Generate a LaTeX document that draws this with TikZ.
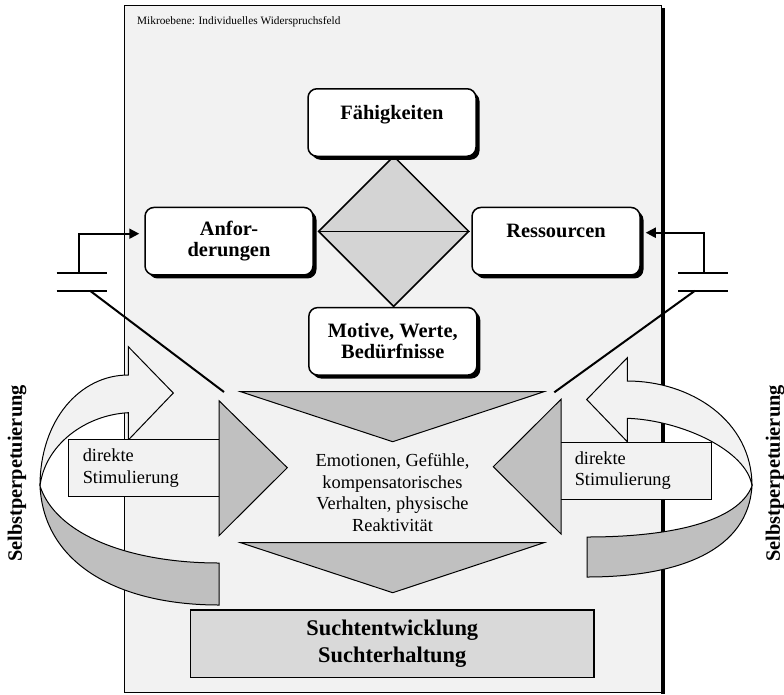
\documentclass[tikz,border=0pt]{standalone}
\usepackage{fontspec}
\setmainfont{Liberation Serif}
\usetikzlibrary{shapes.geometric,arrows.meta,shadows,calc}
\definecolor{framebg}{HTML}{F2F2F2}
\definecolor{trigray}{HTML}{C0C0C0}
\definecolor{diagray}{HTML}{D4D4D4}
\definecolor{suchtgray}{HTML}{D9D9D9}
\definecolor{ribgray}{HTML}{BFBFBF}
\begin{document}
\begin{tikzpicture}[x=1pt,y=-1pt,
  roundbox/.style={draw=black, line width=1.5pt, fill=white, rounded corners=9pt,
    minimum width=168pt, minimum height=67.5pt, inner sep=0pt, align=center,
    font=\fontsize{20.4}{21}\selectfont\bfseries,
    drop shadow={shadow xshift=3.5pt, shadow yshift=-3.5pt, opacity=1, fill=black}},
  stimbox/.style={draw=black, line width=1pt, fill=framebg, minimum height=56.7pt,
    inner xsep=14.4pt, inner ysep=0pt, text width=121.9pt, align=left,
    font=\fontsize{18.4}{21.7}\selectfont},
  tri/.style={fill=trigray, draw=black, line width=1pt, line join=miter},
  conn/.style={draw=black, line width=2pt},
  ribfront/.style={fill=framebg, draw=black, line width=1pt, line join=miter},
  ribback/.style={fill=ribgray, draw=black, line width=1pt},
  vlabel/.style={rotate=90, inner sep=0pt, font=\fontsize{20.4}{21}\selectfont\bfseries}
]
\useasboundingbox (0,0) rectangle (784,694);

% frame
\fill[black] (661,8) rectangle (664.5,694);
\filldraw[fill=framebg, draw=black, line width=1pt] (124,5) rectangle (661,692.5);
\node[anchor=west, inner sep=0pt, font=\fontsize{11.3}{13}\selectfont] (title) at (137,21.7)
  {Mikroebene: Individuelles Widerspruchsfeld};

% ribbons (back parts)
\filldraw[ribback] (40,486) .. controls (44,565) and (120,605) .. (219,605)
  -- (219,563) .. controls (130,563) and (56,535) .. (40,486) -- cycle;
\filldraw[ribback] (752,486) .. controls (748,550) and (680,577) .. (587,577)
  -- (587,537) .. controls (670,537) and (738,522) .. (752,486) -- cycle;
% ribbons (front parts)
\filldraw[ribfront] (128.3,375) -- (128.3,346.7) -- (173.3,393) -- (128.3,440) -- (128.3,412.7)
  .. controls (85,415) and (45,445) .. (40,486)
  .. controls (40,420) and (80,375) .. (128.3,375) -- cycle;
\filldraw[ribfront] (627.3,381) -- (627.3,357.7) -- (586.7,399.5) -- (627.3,441.7) -- (627.3,418.3)
  .. controls (680,420) and (747,450) .. (752,486)
  .. controls (752,420) and (690,381) .. (627.3,381) -- cycle;

% direkte Stimulierung
\node[stimbox] (stimL) at (143.7,468.3) {direkte\\Stimulierung};
\node[stimbox] (stimR) at (635.7,470.7) {direkte\\Stimulierung};

% triangles
\filldraw[tri] (240.7,391.7) -- (544,391.7) -- (392.7,441.7) -- cycle;
\filldraw[tri] (240.7,542.7) -- (544,542.7) -- (392.7,592.7) -- cycle;
\filldraw[tri] (219,400.7) -- (287.3,467.7) -- (219,535.7) -- cycle;
\filldraw[tri] (561,399.3) -- (493.3,466.7) -- (561,534) -- cycle;

\node[align=center, inner sep=0pt, font=\fontsize{18.4}{21.7}\selectfont] (emo) at (392.5,492.7)
  {Emotionen, Gefühle,\\kompensatorisches\\Verhalten, physische\\Reaktivität};

% diamond
\node[diamond, draw=black, line width=1.5pt, fill=diagray, minimum width=150.7pt,
  minimum height=150.7pt, inner sep=0pt] (dia) at (393.65,231.35) {};
\draw[black, line width=1.5pt] (dia.west) -- (dia.east);

% boxes
\node[roundbox] (fah) at (392,122.5) {Fähigkeiten\\\mbox{}};
\node[roundbox] (anf) at (229,241.2) {Anfor-\\derungen};
\node[roundbox] (res) at (556,241.2) {Ressourcen\\\mbox{}};
\node[roundbox] (mot) at (392.8,341.3) {Motive, Werte,\\Bedürfnisse};

% connectors left
\coordinate (lp1a) at (56.7,273.3);
\coordinate (lp1b) at (106.7,273.3);
\coordinate (lp2a) at (56.7,290.7);
\coordinate (lp2b) at (106.7,290.7);
\coordinate (lj) at (79.3,273.3);
\coordinate (lc) at (79.3,233.7);
\coordinate (ld1) at (90,290.7);
\coordinate (ld2) at (224,392);
\draw[conn] (lp1a) -- (lp1b);
\draw[conn] (lp2a) -- (lp2b);
\draw[conn, -{Triangle[length=10pt,width=10pt]}, shorten >=5pt] (lj) -- (lc) -- (lc -| anf.west);
\draw[conn] (ld1) -- (ld2);

% connectors right
\coordinate (rp1a) at (678.3,273.3);
\coordinate (rp1b) at (728.3,273.3);
\coordinate (rp2a) at (678.3,290.7);
\coordinate (rp2b) at (728.3,290.7);
\coordinate (rj) at (704,273.3);
\coordinate (rc) at (704,232.7);
\coordinate (rd1) at (695,290.7);
\coordinate (rd2) at (554.3,392.3);
\draw[conn] (rp1a) -- (rp1b);
\draw[conn] (rp2a) -- (rp2b);
\draw[conn, -{Triangle[length=10pt,width=10pt]}, shorten >=5pt] (rj) -- (rc) -- (rc -| res.east);
\draw[conn] (rd1) -- (rd2);

% Sucht box
\node[draw=black, line width=1.3pt, fill=suchtgray, minimum width=403.3pt, minimum height=67.3pt,
  inner sep=0pt, align=center, font=\fontsize{22.4}{26.7}\selectfont\bfseries] (sucht) at (392.3,643.7)
  {Suchtentwicklung\\Suchterhaltung};

% side labels
\node[vlabel] (selbstL) at (17,473.5) {Selbstperpetuierung};
\node[vlabel] (selbstR) at (775,473.5) {Selbstperpetuierung};
\end{tikzpicture}
\end{document}
